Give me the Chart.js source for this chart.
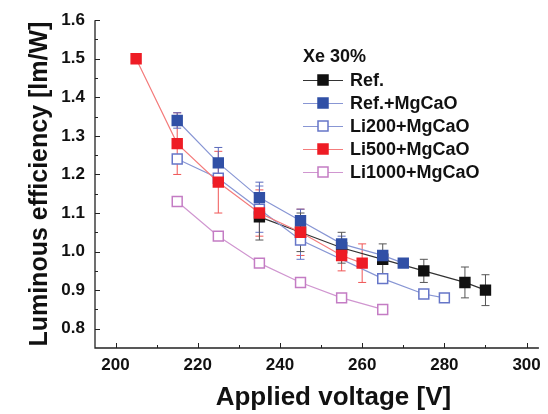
<!DOCTYPE html>
<html>
<head>
<meta charset="utf-8">
<script src="https://cdn.jsdelivr.net/npm/chart.js@4"></script>
<style>
  html, body { margin: 0; padding: 0; background: #fff; }
  #wrap { width: 548px; height: 414px; position: relative; }
</style>
</head>
<body>
<div id="wrap"><canvas id="chart"></canvas></div>
<script>
// Data
const refX = [235, 245, 255, 265, 275, 285, 290];
const refY = [1.09, 1.05, 1.01, 0.98, 0.95, 0.92, 0.90];
const refErr = [0.06, 0.05, 0.04, 0.04, 0.03, 0.04, 0.04];

const refMgX = [215, 225, 235, 245, 255, 265, 270];
const refMgY = [1.34, 1.23, 1.14, 1.08, 1.02, 0.99, 0.97];
const refMgErr = [0.02, 0.04, 0.04, 0.03, 0.02, 0, 0];

const li200X = [215, 225, 235, 245, 265, 275, 280];
const li200Y = [1.24, 1.19, 1.11, 1.03, 0.93, 0.89, 0.88];
const li200Err = [0, 0, 0.06, 0.05, 0, 0, 0];

const li500X = [205, 215, 225, 235, 245, 255, 260];
const li500Y = [1.50, 1.28, 1.18, 1.10, 1.05, 0.99, 0.97];
const li500Err = [0, 0.08, 0.08, 0.06, 0.06, 0.04, 0.05];

const li1000X = [215, 225, 235, 245, 255, 265];
const li1000Y = [1.13, 1.04, 0.97, 0.92, 0.88, 0.85];

const xTicks = [200, 210, 220, 230, 240, 250, 260, 270, 280, 290, 300];
const yTicks = [0.8, 0.85, 0.9, 0.95, 1.0, 1.05, 1.1, 1.15, 1.2, 1.25, 1.3, 1.35, 1.4, 1.45, 1.5, 1.55, 1.6];

const legendTitle = 'Xe 30%';
const xTitle = 'Applied voltage [V]';
const yTitle = 'Luminous efficiency [lm/W]';

const pts = (xs, ys) => xs.map((x, i) => ({ x: x, y: ys[i] }));

const series = [
  { label: 'Ref.', x: refX, y: refY, err: refErr, line: '#333333', fill: '#111111', border: '#111111', errColor: '#555555', order: 5 },
  { label: 'Ref.+MgCaO', x: refMgX, y: refMgY, err: refMgErr, line: '#8896d4', fill: '#3150a6', border: '#3150a6', errColor: '#5a6abc', order: 4 },
  { label: 'Li200+MgCaO', x: li200X, y: li200Y, err: li200Err, line: '#8896d4', fill: '#ffffff', border: '#6676c8', errColor: '#6676c8', order: 3 },
  { label: 'Li500+MgCaO', x: li500X, y: li500Y, err: li500Err, line: '#f47c7c', fill: '#ee1c25', border: '#ee1c25', errColor: '#f05555', order: 2 },
  { label: 'Li1000+MgCaO', x: li1000X, y: li1000Y, err: null, line: '#d096d0', fill: '#ffffff', border: '#c47cc4', errColor: '#c47cc4', order: 1 }
];

const fontFam = '"Liberation Sans", Arial, sans-serif';

// error bars, inward ticks, axis titles and inset legend
const extras = {
  id: 'extras',
  beforeDatasetsDraw(chart) {
    const ctx = chart.ctx;
    const xs = chart.scales.x, ys = chart.scales.y;
    ctx.save();
    ctx.lineWidth = 1;
    series.slice().reverse().forEach(s => {
      if (!s.err) return;
      ctx.strokeStyle = s.errColor;
      s.x.forEach((v, i) => {
        const e = s.err[i];
        if (!e) return;
        const px = xs.getPixelForValue(v);
        const top = ys.getPixelForValue(s.y[i] + e);
        const bot = ys.getPixelForValue(s.y[i] - e);
        ctx.beginPath();
        ctx.moveTo(px, top); ctx.lineTo(px, bot);
        ctx.moveTo(px - 4, top); ctx.lineTo(px + 4, top);
        ctx.moveTo(px - 4, bot); ctx.lineTo(px + 4, bot);
        ctx.stroke();
      });
    });
    ctx.restore();
  },
  afterDraw(chart) {
    const ctx = chart.ctx;
    const xs = chart.scales.x, ys = chart.scales.y;
    const a = chart.chartArea;
    ctx.save();
    ctx.strokeStyle = '#222';
    ctx.lineWidth = 1.3;
    // axis lines
    ctx.beginPath();
    ctx.moveTo(a.left, a.top); ctx.lineTo(a.left, a.bottom); ctx.lineTo(a.right, a.bottom);
    ctx.stroke();
    ctx.lineWidth = 1;
    ctx.beginPath();
    xTicks.forEach(v => {
      const px = Math.round(xs.getPixelForValue(v)) + 0.5;
      const len = v % 20 === 0 ? 5 : 3;
      ctx.moveTo(px, a.bottom); ctx.lineTo(px, a.bottom - len);
    });
    yTicks.forEach(v => {
      const py = Math.round(ys.getPixelForValue(v)) + 0.5;
      const major = Math.abs(Math.round(v * 10) - v * 10) < 1e-6;
      ctx.moveTo(a.left, py); ctx.lineTo(a.left + (major ? 5 : 3), py);
    });
    ctx.stroke();

    // axis titles
    ctx.fillStyle = '#111';
    ctx.font = 'bold 26px ' + fontFam;
    ctx.textAlign = 'center';
    ctx.textBaseline = 'alphabetic';
    ctx.fillText(xTitle, xs.getPixelForValue(253), 405);
    ctx.save();
    ctx.font = 'bold 25px ' + fontFam;
    ctx.translate(47, (a.top + a.bottom) / 2);
    ctx.rotate(-Math.PI / 2);
    ctx.fillText(yTitle, 0, 0);
    ctx.restore();

    // legend
    const lx = 303, ly0 = 80, dy = 23;
    ctx.font = 'bold 18px ' + fontFam;
    ctx.textBaseline = 'middle';
    ctx.textAlign = 'left';
    ctx.fillText(legendTitle, 303, 57);
    series.forEach((s, i) => {
      const y = ly0 + i * dy;
      ctx.strokeStyle = s.line;
      ctx.lineWidth = 1;
      ctx.beginPath();
      ctx.moveTo(lx, y + 0.5); ctx.lineTo(lx + 40, y + 0.5);
      ctx.stroke();
      ctx.fillStyle = s.fill;
      ctx.fillRect(lx + 15, y - 5, 10, 10);
      ctx.strokeStyle = s.border;
      ctx.lineWidth = 1.5;
      ctx.strokeRect(lx + 15, y - 5, 10, 10);
      ctx.fillStyle = '#111';
      ctx.fillText(s.label, lx + 47, y + 1);
    });
    ctx.restore();
  }
};

const datasets = series.map(s => ({
  label: s.label,
  data: pts(s.x, s.y),
  borderColor: s.line,
  borderWidth: 1.2,
  pointStyle: 'rect',
  pointRadius: 7,
  pointBackgroundColor: s.fill,
  pointBorderColor: s.border,
  pointBorderWidth: 1.5,
  showLine: true,
  fill: false,
  tension: 0,
  order: s.order
}));

new Chart(document.getElementById('chart'), {
  type: 'scatter',
  data: { datasets: datasets },
  options: {
    responsive: true,
    maintainAspectRatio: false,
    animation: false,
    layout: { padding: { top: 15, right: 5, left: 0, bottom: 0 } },
    plugins: { legend: { display: false }, tooltip: { enabled: false } },
    scales: {
      x: {
        type: 'linear',
        min: 195,
        max: 303,
        afterBuildTicks: s => { s.ticks = xTicks.map(v => ({ value: v })); },
        afterFit: s => { s.height = 66; },
        grid: { display: false, drawTicks: false },
        border: { display: false },
        ticks: {
          padding: 7,
          color: '#111',
          font: { family: fontFam, size: 17, weight: 'bold' },
          callback: v => (v % 20 === 0 ? String(v) : '')
        },
        title: { display: false }
      },
      y: {
        type: 'linear',
        min: 0.75,
        max: 1.6,
        afterBuildTicks: s => { s.ticks = yTicks.map(v => ({ value: v })); },
        afterFit: s => { s.width = 95; },
        grid: { display: false, drawTicks: false },
        border: { display: false },
        ticks: {
          padding: 10,
          color: '#111',
          font: { family: fontFam, size: 17, weight: 'bold' },
          callback: v => {
            const r = Math.round(v * 10) / 10;
            return Math.abs(r - v) < 1e-6 ? r.toFixed(1) : '';
          }
        },
        title: { display: false }
      }
    }
  },
  plugins: [extras]
});
</script>
</body>
</html>
